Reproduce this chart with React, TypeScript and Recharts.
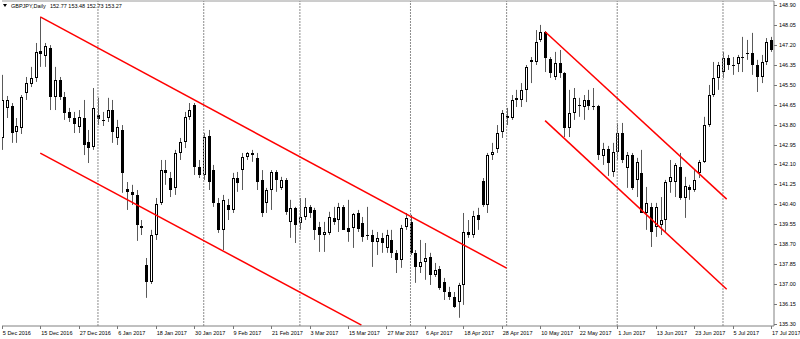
import React from 'react';
import { ComposedChart, Bar, XAxis, YAxis, ReferenceLine } from 'recharts';

// GBPJPY daily, one label every 8 bars
const dateLabels = [
  '5 Dec 2016', '15 Dec 2016', '27 Dec 2016', '6 Jan 2017', '18 Jan 2017', '30 Jan 2017',
  '9 Feb 2017', '21 Feb 2017', '3 Mar 2017', '15 Mar 2017', '27 Mar 2017', '6 Apr 2017',
  '18 Apr 2017', '28 Apr 2017', '10 May 2017', '22 May 2017', '1 Jun 2017', '13 Jun 2017',
  '23 Jun 2017', '5 Jul 2017', '17 Jul 2017',
];
const barsPerLabel = 8;
// first bar of each month (dotted separators)
const monthStartBars = [20, 42, 62, 85, 105, 128, 150];
const priceTicks = [
  148.9, 148.05, 147.2, 146.35, 145.5, 144.65, 143.8, 142.95, 142.1,
  141.25, 140.4, 139.55, 138.7, 137.85, 137.0, 136.15, 135.3,
];

const opens = [
  143.23, 144.51, 144.59, 143.49, 143.66, 145.15, 145.53, 145.79, 146.94, 146.73,
  147.07, 144.98, 145.70, 144.98, 144.34, 144.08, 143.70, 144.08, 143.06, 142.85,
  144.21, 144.00, 144.08, 144.42, 143.23, 143.57, 141.06, 140.93, 140.80, 139.48,
  137.82, 137.09, 139.09, 140.46, 141.86, 141.52, 141.10, 142.59, 143.06, 144.13,
  144.64, 141.99, 141.65, 143.31, 141.86, 140.46, 139.31, 140.37, 140.16, 141.52,
  141.86, 142.42, 142.50, 142.38, 141.44, 140.46, 141.01, 141.78, 141.10, 141.44,
  139.65, 140.25, 139.61, 139.86, 140.29, 140.16, 139.44, 139.09, 139.18, 139.82,
  139.73, 140.29, 139.39, 139.39, 140.03, 139.61, 139.09, 139.09, 138.80, 138.97,
  138.54, 138.88, 138.33, 138.03, 139.44, 139.65, 138.33, 137.73, 137.94, 138.16,
  137.39, 137.64, 137.09, 136.66, 136.45, 136.24, 136.96, 139.22, 139.09, 139.95,
  141.40, 140.37, 142.50, 142.76, 143.49, 144.17, 144.08, 144.85, 144.85, 145.28,
  146.47, 146.47, 147.41, 147.75, 146.60, 145.83, 146.43, 146.00, 143.66, 144.30,
  144.64, 144.55, 144.85, 144.59, 144.59, 142.46, 142.76, 141.78, 142.63, 143.44,
  141.95, 142.50, 141.44, 141.74, 140.03, 140.29, 139.44, 139.52, 139.73, 141.35,
  141.35, 141.99, 140.67, 141.14, 141.01, 141.74, 142.21, 143.78, 145.06, 145.79,
  146.04, 146.64, 146.34, 146.38, 146.68, 146.85, 146.85, 146.34, 145.83, 146.47,
  147.41,
];
const highs = [
  145.92, 145.02, 144.72, 144.08, 145.06, 145.83, 146.26, 147.28, 148.39, 147.28,
  147.19, 146.26, 145.83, 145.19, 144.51, 144.34, 144.42, 144.85, 143.57, 145.36,
  144.94, 144.34, 144.94, 144.85, 144.00, 143.78, 141.35, 141.23, 141.01, 139.73,
  138.11, 139.31, 140.67, 142.29, 142.29, 141.78, 142.72, 143.23, 144.34, 144.72,
  144.72, 142.29, 143.44, 143.57, 142.08, 140.67, 140.80, 140.63, 141.74, 141.78,
  142.59, 142.63, 142.72, 142.59, 141.86, 141.10, 141.86, 141.86, 141.57, 141.52,
  140.59, 140.29, 140.67, 140.67, 140.37, 140.25, 139.65, 139.65, 140.08, 140.29,
  140.46, 140.37, 140.59, 140.03, 140.16, 139.86, 140.29, 139.31, 139.22, 139.18,
  139.31, 139.31, 138.45, 139.52, 140.03, 139.95, 138.45, 138.88, 138.75, 138.33,
  137.90, 137.77, 137.26, 136.88, 136.66, 137.05, 140.03, 139.73, 140.12, 140.25,
  141.52, 142.59, 143.02, 143.78, 144.42, 144.51, 145.06, 145.28, 145.57, 146.34,
  146.68, 147.83, 148.05, 147.79, 146.68, 146.90, 146.98, 146.04, 145.28, 145.36,
  144.94, 145.06, 145.28, 145.36, 144.64, 143.02, 142.89, 143.02, 143.87, 143.87,
  142.63, 142.59, 142.38, 142.72, 141.14, 140.46, 140.46, 140.71, 141.44, 142.29,
  142.16, 142.59, 141.57, 141.23, 141.86, 142.29, 144.13, 145.49, 146.47, 146.47,
  146.90, 146.77, 146.68, 146.77, 147.54, 147.41, 147.71, 146.56, 146.77, 147.49,
  147.54,
];
const lows = [
  142.72, 144.08, 143.02, 143.02, 143.40, 144.85, 145.40, 145.62, 146.26, 146.26,
  144.42, 144.42, 144.85, 144.00, 143.91, 143.44, 143.44, 142.50, 142.16, 142.72,
  143.78, 143.74, 143.91, 143.02, 142.93, 140.89, 140.16, 140.37, 138.84, 139.09,
  136.41, 137.00, 138.88, 140.37, 141.23, 140.71, 140.80, 142.29, 142.80, 144.00,
  141.65, 141.52, 141.44, 141.01, 140.29, 139.18, 138.45, 139.73, 140.03, 140.93,
  141.01, 142.29, 142.21, 141.01, 139.86, 140.03, 140.16, 140.93, 141.01, 139.95,
  138.97, 138.75, 139.31, 139.73, 139.82, 138.88, 138.37, 138.37, 139.09, 139.52,
  139.22, 139.31, 138.80, 138.54, 139.22, 138.80, 138.88, 137.73, 138.24, 138.33,
  138.33, 138.11, 137.47, 137.69, 139.31, 138.24, 137.05, 137.47, 137.18, 136.96,
  137.30, 136.75, 136.32, 136.32, 135.98, 135.56, 136.11, 138.97, 138.97, 139.31,
  140.29, 140.03, 142.29, 142.59, 143.23, 143.78, 144.00, 144.55, 144.55, 144.76,
  145.57, 146.34, 147.32, 146.04, 145.79, 145.70, 145.79, 143.27, 143.27, 144.00,
  144.13, 144.00, 144.42, 144.42, 142.29, 142.08, 141.61, 141.57, 142.29, 142.16,
  141.10, 141.01, 140.71, 140.03, 139.31, 138.58, 139.01, 139.09, 139.18, 140.89,
  140.71, 140.59, 139.82, 140.59, 140.93, 141.52, 142.16, 143.70, 144.98, 145.28,
  145.79, 146.13, 145.92, 146.04, 146.04, 146.56, 145.92, 145.19, 145.57, 146.34,
  146.90,
];
const closes = [
  144.85, 144.85, 143.44, 143.74, 144.98, 145.57, 145.79, 146.90, 146.81, 147.15,
  144.98, 145.70, 144.98, 144.30, 144.08, 143.83, 144.13, 142.93, 142.80, 144.51,
  144.04, 143.98, 144.42, 143.49, 143.70, 141.74, 140.93, 140.80, 139.52, 139.39,
  137.09, 139.09, 140.42, 141.86, 141.74, 141.01, 142.59, 143.06, 144.13, 144.42,
  141.99, 141.65, 143.27, 141.35, 140.46, 139.31, 140.59, 140.16, 141.52, 141.31,
  142.42, 142.59, 142.59, 141.35, 140.03, 141.01, 141.78, 141.44, 141.44, 140.08,
  140.25, 139.52, 139.86, 140.29, 140.03, 139.31, 139.09, 139.22, 139.86, 139.65,
  140.29, 139.31, 139.22, 139.99, 139.35, 139.01, 139.05, 138.80, 138.97, 138.75,
  139.09, 138.33, 138.03, 139.39, 139.82, 138.33, 137.73, 137.94, 138.11, 137.39,
  137.60, 136.84, 136.66, 136.45, 136.03, 136.96, 139.22, 139.09, 139.90, 139.73,
  140.37, 142.50, 142.63, 143.44, 144.30, 144.08, 144.85, 144.94, 145.28, 146.26,
  146.56, 147.32, 147.75, 146.64, 146.00, 146.43, 146.00, 143.66, 144.30, 144.94,
  144.62, 144.85, 144.59, 144.57, 142.50, 142.76, 142.16, 142.63, 143.44, 142.29,
  142.50, 141.10, 142.21, 140.03, 140.46, 139.22, 140.29, 139.73, 141.35, 141.57,
  142.08, 140.67, 141.18, 141.01, 141.44, 142.21, 143.78, 145.06, 145.79, 146.34,
  146.64, 146.34, 146.32, 146.68, 146.66, 146.83, 146.34, 145.83, 146.47, 147.32,
  146.98,
];

// hand drawn channels: [bar, price] -> [bar, price]
const channelLines = [
  [[8, 148.39], [105, 137.68]],
  [[8, 142.58], [74.8, 135.25]],
  [[113, 147.76], [150.77, 140.62]],
  [[113, 143.97], [150.77, 136.78]],
];

const yDomain = [135.21, 149.07];
const xDomain = [0.04, 160.61];
const font = '"Liberation Sans", Arial, sans-serif';

const candles = opens.map((o, i) => ({
  bar: i,
  open: o,
  high: highs[i],
  low: lows[i],
  close: closes[i],
  range: [lows[i], highs[i]],
}));
const labelBars = dateLabels.map((_, k) => k * barsPerLabel);

const Candle = (props: any) => {
  const { x, y, width, height, payload } = props;
  if (x == null || y == null || !payload) return null;
  const top = Math.min(y, y + height);
  const bottom = Math.max(y, y + height);
  const span = payload.high - payload.low;
  const toPx = (v: number) => (span > 0 ? top + ((payload.high - v) / span) * (bottom - top) : top);
  const cx = Math.round(x + width / 2);
  const yo = toPx(payload.open);
  const yc = toPx(payload.close);
  const bull = payload.close >= payload.open;
  const b0 = Math.round(Math.min(yo, yc));
  const b1 = Math.round(Math.max(yo, yc));
  return (
    <g>
      <line x1={cx + 0.5} x2={cx + 0.5} y1={top} y2={bottom} stroke="#5a5a5a" strokeWidth={1} />
      {b1 - b0 < 2 ? (
        <line x1={cx - 1} x2={cx + 2} y1={b0 + 0.5} y2={b0 + 0.5} stroke="#000" strokeWidth={1} />
      ) : (
        <rect
          x={cx - 0.5}
          y={b0 + 0.5}
          width={2}
          height={b1 - b0 - 1}
          fill={bull ? '#fff' : '#000'}
          stroke="#000"
          strokeWidth={1}
        />
      )}
    </g>
  );
};

const DateTick = (props: any) => {
  const { x, y, payload } = props;
  const label = dateLabels[Math.round(payload.value / barsPerLabel)];
  const px = Math.round(x) + 0.5;
  return (
    <g>
      <line x1={px} x2={px} y1={y} y2={y + 3} stroke="#777" />
      <text x={x + 1} y={y + 9} fontSize={5.5} fill="#000" fontFamily={font}>
        {label}
      </text>
    </g>
  );
};

const PriceTick = (props: any) => {
  const { x, y, payload } = props;
  const py = Math.round(y) + 0.5;
  return (
    <g>
      <line x1={x} x2={x + 3} y1={py} y2={py} stroke="#777" />
      <text x={x + 5} y={y + 2} fontSize={5.5} fill="#000" fontFamily={font}>
        {Number(payload.value).toFixed(2)}
      </text>
    </g>
  );
};

export default function App() {
  return (
    <div style={{ position: 'absolute', left: 0, top: 0, width: 800, height: 339, background: '#fff' }}>
      <ComposedChart width={800} height={339} data={candles} margin={{ top: 1, right: 0, bottom: 0, left: 2 }}>
        <XAxis
          dataKey="bar"
          type="number"
          domain={xDomain}
          allowDataOverflow
          ticks={labelBars}
          interval={0}
          tick={DateTick}
          tickSize={0}
          tickMargin={0}
          tickLine={false}
          axisLine={{ stroke: '#808080' }}
          height={13}
        />
        <YAxis
          orientation="right"
          type="number"
          domain={yDomain}
          allowDataOverflow
          ticks={priceTicks}
          interval={0}
          tick={PriceTick}
          tickSize={0}
          tickMargin={0}
          tickLine={false}
          axisLine={{ stroke: '#808080' }}
          width={26}
        />
        <ReferenceLine y={yDomain[1]} stroke="#9a9a9a" ifOverflow="visible" />
        {monthStartBars.map((b) => (
          <ReferenceLine key={b} x={b} stroke="#8c8c8c" strokeDasharray="2 1" />
        ))}
        <Bar dataKey="range" barSize={3} isAnimationActive={false} shape={(p: any) => <Candle {...p} />} />
        {channelLines.map((seg, k) => (
          <ReferenceLine
            key={k}
            segment={[
              { x: seg[0][0], y: seg[0][1] },
              { x: seg[1][0], y: seg[1][1] },
            ]}
            stroke="#ff0000"
            strokeWidth={1.5}
            ifOverflow="visible"
          />
        ))}
      </ComposedChart>
      <svg width={200} height={12} style={{ position: 'absolute', left: 0, top: 0 }}>
        <path d="M3 4 L7 4 L5 7 Z" fill="#000" />
        <text x={11} y={7.5} fontSize={5.5} fill="#000" fontFamily={font}>
          GBPJPY,Daily
        </text>
        <text x={50} y={7.5} fontSize={5.5} fill="#000" fontFamily={font}>
          152.77 153.48 152.73 153.27
        </text>
      </svg>
    </div>
  );
}
